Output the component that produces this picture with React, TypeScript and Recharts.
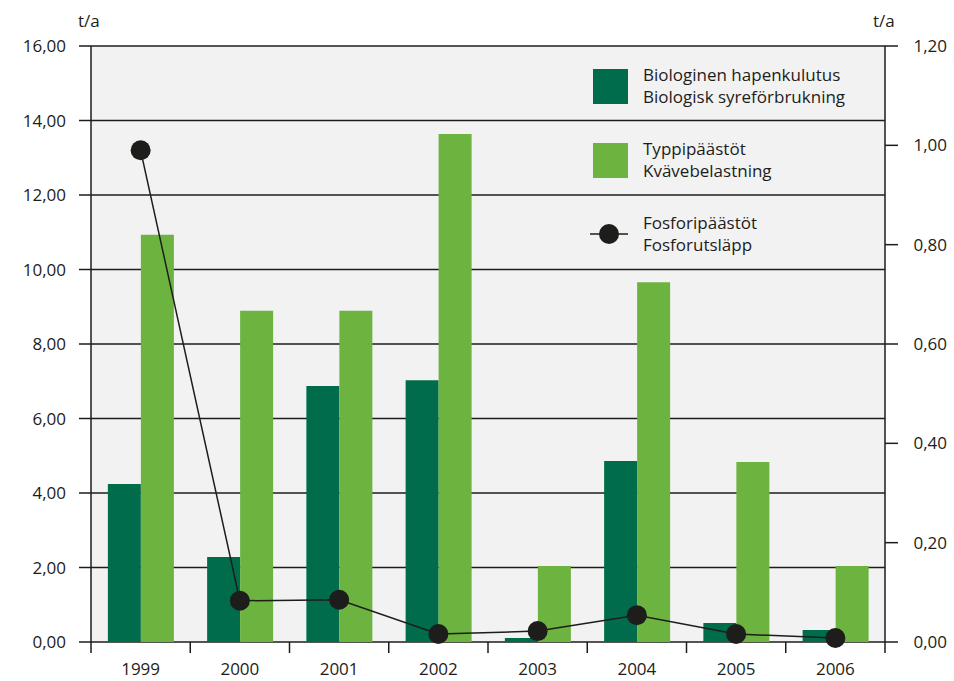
import { ComposedChart, Bar, Line, XAxis, YAxis, CartesianGrid, Legend } from "recharts";

const years = ["1999", "2000", "2001", "2002", "2003", "2004", "2005", "2006"];
const hapenkulutus = [4.24, 2.28, 6.87, 7.03, 0.11, 4.86, 0.51, 0.32];
const typpi = [10.93, 8.89, 8.89, 13.64, 2.04, 9.66, 4.83, 2.04];
const fosfori = [0.99, 0.083, 0.085, 0.016, 0.022, 0.054, 0.016, 0.008];

const leftTicks = [0, 2, 4, 6, 8, 10, 12, 14, 16];
const rightTicks = [0, 0.2, 0.4, 0.6, 0.8, 1.0, 1.2];

const data = years.map((year, i) => ({
  year,
  hapenkulutus: hapenkulutus[i],
  typpi: typpi[i],
  fosfori: fosfori[i],
}));

const DARK = "#006c4b";
const LIGHT = "#6db33f";
const INK = "#1d1d1b";
const FONT = "'Open Sans', sans-serif";
const FS = 17;

const fmt = (v: number) => v.toFixed(2).replace(".", ",");

const XTick = (props: any) => {
  const { x, y, payload, index } = props;
  const half = payload.offset ?? 0;
  const last = index === years.length - 1;
  return (
    <g>
      <line x1={x - half} x2={x - half} y1={y - 21} y2={y - 10} stroke={INK} strokeWidth={1.5} />
      {last && <line x1={x + half} x2={x + half} y1={y - 21} y2={y - 10} stroke={INK} strokeWidth={1.5} />}
      <text x={x} y={y} dy="0.71em" textAnchor="middle" fill={INK} fontSize={FS} fontFamily={FONT}>
        {payload.value}
      </text>
    </g>
  );
};

const RightTick = (props: any) => {
  const { x, y, payload } = props;
  return (
    <text x={x} y={y} dy="0.355em" textAnchor="end" fill={INK} fontSize={FS} fontFamily={FONT}>
      {fmt(payload.value)}
    </text>
  );
};

const legendItems = [
  { kind: "bar", color: DARK, lines: ["Biologinen hapenkulutus", "Biologisk syreförbrukning"] },
  { kind: "bar", color: LIGHT, lines: ["Typpipäästöt", "Kvävebelastning"] },
  { kind: "line", color: INK, lines: ["Fosforipäästöt", "Fosforutsläpp"] },
];

const LegendBox = () => (
  <div style={{ fontFamily: FONT, fontSize: FS, color: INK, lineHeight: "22px" }}>
    {legendItems.map((item) => (
      <div key={item.lines[0]} style={{ display: "flex", alignItems: "center", height: 74 }}>
        <div style={{ width: 58, flexShrink: 0 }}>
          {item.kind === "bar" ? (
            <div style={{ width: 35, height: 35, background: item.color, marginLeft: 8 }} />
          ) : (
            <svg width={40} height={22} style={{ marginLeft: 5, display: "block" }}>
              <line x1={0} x2={38} y1={11} y2={11} stroke={INK} strokeWidth={1.5} />
              <circle cx={19} cy={11} r={10} fill={INK} />
            </svg>
          )}
        </div>
        <div>
          {item.lines.map((l) => (
            <div key={l}>{l}</div>
          ))}
        </div>
      </div>
    ))}
  </div>
);

export default function App() {
  return (
    <div style={{ position: "relative", width: 954, height: 681, background: "#fff" }}>
      <style>{`body{margin:0}`}</style>
      <div style={{ position: "absolute", left: 78, top: 9, fontFamily: FONT, fontSize: FS, color: INK }}>t/a</div>
      <div style={{ position: "absolute", left: 873, top: 9, fontFamily: FONT, fontSize: FS, color: INK }}>t/a</div>
      <ComposedChart
        width={954}
        height={681}
        data={data}
        margin={{ top: 46, right: 0, left: 0, bottom: 0 }}
        barGap={0}
        barCategoryGap="17%"
      >
        <CartesianGrid vertical={false} stroke={INK} strokeWidth={1.5} fill="#f2f2f2" yAxisId="left" />
        <XAxis
          dataKey="year"
          height={39}
          axisLine={false}
          tickLine={false}
          tickSize={0}
          tickMargin={21}
          tick={<XTick />}
          interval={0}
        />
        <YAxis
          yAxisId="left"
          width={91}
          domain={[0, 16]}
          ticks={leftTicks}
          tickFormatter={fmt}
          axisLine={{ stroke: INK, strokeWidth: 1.5 }}
          tickLine={{ stroke: INK, strokeWidth: 1.5 }}
          tickSize={12}
          tickMargin={13}
          tick={{ fill: INK, fontSize: FS, fontFamily: FONT }}
        />
        <YAxis
          yAxisId="right"
          orientation="right"
          width={69}
          domain={[0, 1.2]}
          ticks={rightTicks}
          axisLine={{ stroke: INK, strokeWidth: 1.5 }}
          tickLine={{ stroke: INK, strokeWidth: 1.5 }}
          tickSize={13}
          tickMargin={49}
          tick={<RightTick />}
        />
        <Legend
          layout="vertical"
          align="center"
          verticalAlign="middle"
          wrapperStyle={{ top: 49, left: 585, width: 300 }}
          content={<LegendBox />}
        />
        <Bar yAxisId="left" dataKey="hapenkulutus" fill={DARK} isAnimationActive={false} />
        <Bar yAxisId="left" dataKey="typpi" fill={LIGHT} isAnimationActive={false} />
        <Line
          yAxisId="right"
          dataKey="fosfori"
          type="linear"
          stroke={INK}
          strokeWidth={1.5}
          dot={{ r: 10, fill: INK, stroke: "none" }}
          activeDot={false}
          isAnimationActive={false}
        />
      </ComposedChart>
    </div>
  );
}
